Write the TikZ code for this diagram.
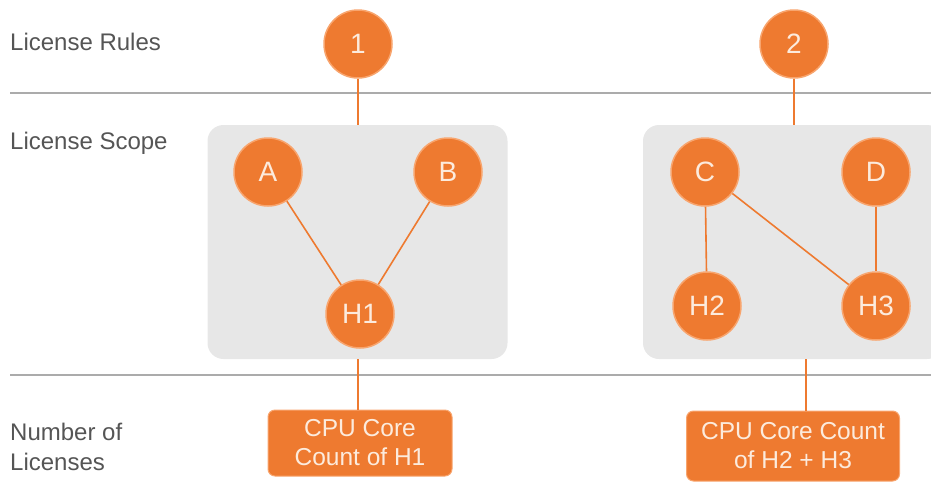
\documentclass[tikz,border=0pt]{standalone}
\usepackage{fontspec}
\setmainfont{Liberation Sans}
\definecolor{org}{HTML}{EE7A30}
\definecolor{orgedge}{HTML}{F8A56E}
\definecolor{orgtxt}{HTML}{FCEBDD}
\definecolor{scopebg}{HTML}{E7E7E7}
\definecolor{rulecol}{HTML}{ABABAB}
\definecolor{labtxt}{HTML}{555555}
\begin{document}
\begin{tikzpicture}[x=1pt,y=-1pt,
  circ/.style={circle,fill=org,draw=orgedge,line width=1.5pt,minimum size=68pt,inner sep=0pt,
    text=orgtxt,font=\fontsize{28}{28}\selectfont},
  cpubox/.style={rectangle,rounded corners=7pt,fill=org,draw=orgedge,line width=1pt,text=orgtxt,
    align=center,inner sep=0pt,font=\fontsize{24.5}{29}\selectfont},
  scope/.style={rectangle,rounded corners=16pt,fill=scopebg,draw=none},
  lab/.style={anchor=west,text=labtxt,font=\fontsize{24}{30}\selectfont,align=left,inner sep=0pt},
  conn/.style={draw=org,line width=1.6pt},
  rule/.style={draw=rulecol,line width=1.2pt}]
\useasboundingbox (0,0) rectangle (931,483);
% section labels
\node[lab] (lrules) at (10,42) {License Rules};
\node[lab] (lscope) at (10,143) {License Scope};
\node[lab] (lnum) at (10,447) {Number of\\Licenses};
% horizontal rules
\coordinate (r1a) at (10,93); \coordinate (r1b) at (931,93);
\coordinate (r2a) at (10,375); \coordinate (r2b) at (931,375);
\draw[rule] (r1a) -- (r1b);
\draw[rule] (r2a) -- (r2b);
% scope boxes
\node[scope,minimum width=300pt,minimum height=234pt] (s1) at (357.5,242) {};
\node[scope,minimum width=300pt,minimum height=234pt] (s2) at (793,242) {};
% cpu boxes
\node[cpubox,minimum width=184pt,minimum height=66pt] (c1) at (360,443) {CPU Core\\Count of H1};
\node[cpubox,minimum width=213pt,minimum height=70pt] (c2) at (793,446) {CPU Core Count\\of H2 + H3};
% rule circles
\node[circ] (n1) at (358,44) {1};
\node[circ] (n2) at (794,44) {2};
% connectors to scope boxes
\draw[conn] (n1) -- (n1 |- s1.north);
\draw[conn] (n2) -- (n2 |- s2.north);
\coordinate (h1x) at (358,360);
\draw[conn] (s1.south -| h1x) -- (c1.north -| h1x);
\coordinate (h2x) at (806,360);
\draw[conn] (s2.south -| h2x) -- (c2.north -| h2x);
% nodes
\node[circ] (A) at (268,172) {A};
\node[circ] (B) at (448,172) {B};
\node[circ] (H1) at (360,314) {H1};
\node[circ] (C) at (705,172) {C};
\node[circ] (D) at (876,172) {D};
\node[circ] (H2) at (707,306) {H2};
\node[circ] (H3) at (876,306) {H3};
\draw[conn] (A) -- (H1);
\draw[conn] (B) -- (H1);
\draw[conn] (C) -- (H2);
\draw[conn] (C) -- (H3);
\draw[conn] (D) -- (H3);
\end{tikzpicture}
\end{document}
